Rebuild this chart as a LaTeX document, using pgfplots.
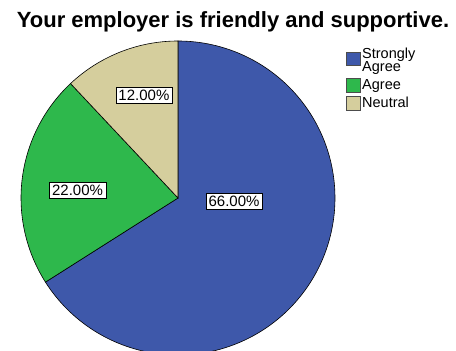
\documentclass[border=0pt]{standalone}
\usepackage{pgfplots}
\pgfplotsset{compat=1.18}
\usepackage{pgfplotstable}
\usepackage{fontspec}
\setmainfont{Liberation Sans}
\definecolor{sablue}{RGB}{62,88,170}
\definecolor{sagreen}{RGB}{46,184,76}
\definecolor{saneutral}{RGB}{213,206,157}
\pgfplotstableread{
label value
SA 66
A 22
N 12
}\piedata
\begin{document}
\begin{tikzpicture}
\useasboundingbox (0,0) rectangle (456bp,351bp);
\pgfplotstablegetelem{0}{value}\of\piedata \let\vA\pgfplotsretval
\pgfplotstablegetelem{1}{value}\of\piedata \let\vB\pgfplotsretval
\pgfplotstablegetelem{2}{value}\of\piedata \let\vC\pgfplotsretval
\pgfmathsetmacro\aS{90}
\pgfmathsetmacro\aA{90-3.6*\vA}
\pgfmathsetmacro\aB{\aA-3.6*\vB}
\pgfmathsetmacro\aC{\aB-3.6*\vC}
\begin{axis}[at={(0,0)}, anchor=south west, scale only axis,
  width=456bp, height=351bp, hide axis, clip=false,
  xmin=-1.1338, xmax=1.7707, ymin=-0.9745, ymax=1.2611]
\addplot[fill=sablue, draw=black, line width=0.6pt, domain=\aA:\aS, samples=150, variable=\t] ({cos(\t)},{sin(\t)}) -- (axis cs:0,0) -- cycle;
\addplot[fill=sagreen, draw=black, line width=0.6pt, domain=\aB:\aA, samples=60, variable=\t] ({cos(\t)},{sin(\t)}) -- (axis cs:0,0) -- cycle;
\addplot[fill=saneutral, draw=black, line width=0.6pt, domain=\aC:\aB, samples=40, variable=\t] ({cos(\t)},{sin(\t)}) -- (axis cs:0,0) -- cycle;
\node[draw=black, fill=white, inner sep=2.8bp, font=\fontsize{15bp}{17bp}\selectfont] at (axis cs:0.357,-0.019) {66.00\%};
\node[draw=black, fill=white, inner sep=2.8bp, font=\fontsize{15bp}{17bp}\selectfont] at (axis cs:-0.640,0.051) {22.00\%};
\node[draw=black, fill=white, inner sep=2.8bp, font=\fontsize{15bp}{17bp}\selectfont] at (axis cs:-0.217,0.653) {12.00\%};
\end{axis}
\node[font=\fontsize{22bp}{24bp}\selectfont\bfseries] at (233bp,329bp) {Your employer is friendly and supportive.};
\draw[fill=sablue, draw=black!70] (346bp,286bp) rectangle (360bp,299bp);
\draw[fill=sagreen, draw=black!70] (346bp,258.3bp) rectangle (360bp,272.7bp);
\draw[fill=saneutral, draw=black!70] (346bp,240.3bp) rectangle (360bp,254.3bp);
\begin{scope}[every node/.style={anchor=base west, inner sep=0pt, font=\fontsize{14.5bp}{16bp}\selectfont}]
\node at (362bp,292.5bp) {Strongly};
\node at (362bp,279bp) {Agree};
\node at (362bp,261bp) {Agree};
\node at (362bp,243bp) {Neutral};
\end{scope}
\end{tikzpicture}
\end{document}
